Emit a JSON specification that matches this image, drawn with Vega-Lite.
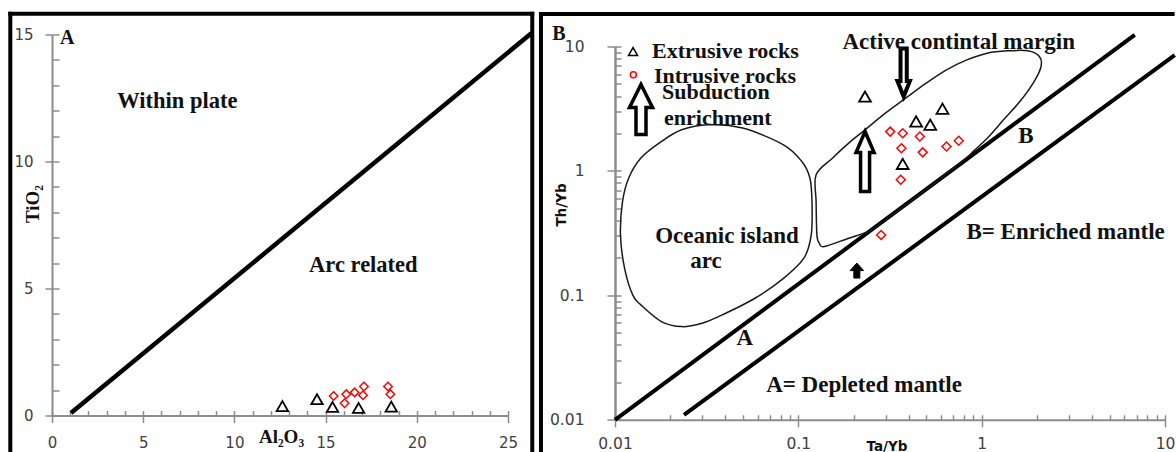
{
 "$schema": "https://vega.github.io/schema/vega-lite/v6.json",
 "background": "white",
 "padding": {"left": 7, "top": 10.5, "right": 0, "bottom": 0},
 "config": {"view": {"stroke": null}, "axis": {"grid": false, "labelFlush": false, "labelOverlap": false, "labelBound": false}},
 "datasets": {
  "samplesA": [
   {"type": "Extrusive", "Al2O3": 12.63, "TiO2": 0.37},
   {"type": "Extrusive", "Al2O3": 14.53, "TiO2": 0.64},
   {"type": "Extrusive", "Al2O3": 15.38, "TiO2": 0.34},
   {"type": "Extrusive", "Al2O3": 16.81, "TiO2": 0.30},
   {"type": "Extrusive", "Al2O3": 18.60, "TiO2": 0.35},
   {"type": "Intrusive", "Al2O3": 15.44, "TiO2": 0.77},
   {"type": "Intrusive", "Al2O3": 16.04, "TiO2": 0.48},
   {"type": "Intrusive", "Al2O3": 16.13, "TiO2": 0.84},
   {"type": "Intrusive", "Al2O3": 16.59, "TiO2": 0.91},
   {"type": "Intrusive", "Al2O3": 17.10, "TiO2": 1.14},
   {"type": "Intrusive", "Al2O3": 17.05, "TiO2": 0.80},
   {"type": "Intrusive", "Al2O3": 18.42, "TiO2": 1.14},
   {"type": "Intrusive", "Al2O3": 18.55, "TiO2": 0.84}
  ],
  "boundaryA": [{"Al2O3": 1.04, "TiO2": 0.1}, {"Al2O3": 26.3, "TiO2": 15.06}],
  "notesA": [
   {"label": "A", "kind": "panel", "Al2O3": 0.84, "TiO2": 14.62},
   {"label": "Within plate", "kind": "field", "Al2O3": 6.87, "TiO2": 12.09},
   {"label": "Arc related", "kind": "field", "Al2O3": 17.07, "TiO2": 5.65}
  ],
  "samplesB": [
   {"type": "Extrusive", "Ta_Yb": 0.231, "Th_Yb": 3.96},
   {"type": "Extrusive", "Ta_Yb": 0.439, "Th_Yb": 2.50},
   {"type": "Extrusive", "Ta_Yb": 0.524, "Th_Yb": 2.35},
   {"type": "Extrusive", "Ta_Yb": 0.611, "Th_Yb": 3.16},
   {"type": "Extrusive", "Ta_Yb": 0.371, "Th_Yb": 1.14},
   {"type": "Intrusive", "Ta_Yb": 0.317, "Th_Yb": 2.07},
   {"type": "Intrusive", "Ta_Yb": 0.371, "Th_Yb": 2.01},
   {"type": "Intrusive", "Ta_Yb": 0.460, "Th_Yb": 1.89},
   {"type": "Intrusive", "Ta_Yb": 0.365, "Th_Yb": 1.52},
   {"type": "Intrusive", "Ta_Yb": 0.477, "Th_Yb": 1.41},
   {"type": "Intrusive", "Ta_Yb": 0.643, "Th_Yb": 1.57},
   {"type": "Intrusive", "Ta_Yb": 0.750, "Th_Yb": 1.75},
   {"type": "Intrusive", "Ta_Yb": 0.362, "Th_Yb": 0.85},
   {"type": "Intrusive", "Ta_Yb": 0.283, "Th_Yb": 0.306}
  ],
  "mantleB": [
   {"line": "A", "Ta_Yb": 0.01, "Th_Yb": 0.01},
   {"line": "A", "Ta_Yb": 6.84, "Th_Yb": 12.41},
   {"line": "B", "Ta_Yb": 0.0238, "Th_Yb": 0.01095},
   {"line": "B", "Ta_Yb": 11.3, "Th_Yb": 8.51}
  ],
  "fieldsB": [
   {"region": "Oceanic island arc", "seq": 1, "Ta_Yb": 0.0322, "Th_Yb": 2.35},
   {"region": "Oceanic island arc", "seq": 2, "Ta_Yb": 0.0497, "Th_Yb": 2.21},
   {"region": "Oceanic island arc", "seq": 3, "Ta_Yb": 0.083, "Th_Yb": 1.62},
   {"region": "Oceanic island arc", "seq": 4, "Ta_Yb": 0.1045, "Th_Yb": 1.19},
   {"region": "Oceanic island arc", "seq": 5, "Ta_Yb": 0.1157, "Th_Yb": 0.874},
   {"region": "Oceanic island arc", "seq": 6, "Ta_Yb": 0.1187, "Th_Yb": 0.567},
   {"region": "Oceanic island arc", "seq": 7, "Ta_Yb": 0.1176, "Th_Yb": 0.306},
   {"region": "Oceanic island arc", "seq": 8, "Ta_Yb": 0.1072, "Th_Yb": 0.199},
   {"region": "Oceanic island arc", "seq": 9, "Ta_Yb": 0.083, "Th_Yb": 0.137},
   {"region": "Oceanic island arc", "seq": 10, "Ta_Yb": 0.058, "Th_Yb": 0.0948},
   {"region": "Oceanic island arc", "seq": 11, "Ta_Yb": 0.0385, "Th_Yb": 0.0697},
   {"region": "Oceanic island arc", "seq": 12, "Ta_Yb": 0.0298, "Th_Yb": 0.0597},
   {"region": "Oceanic island arc", "seq": 13, "Ta_Yb": 0.0231, "Th_Yb": 0.0561},
   {"region": "Oceanic island arc", "seq": 14, "Ta_Yb": 0.0179, "Th_Yb": 0.0616},
   {"region": "Oceanic island arc", "seq": 15, "Ta_Yb": 0.01384, "Th_Yb": 0.0838},
   {"region": "Oceanic island arc", "seq": 16, "Ta_Yb": 0.01249, "Th_Yb": 0.1009},
   {"region": "Oceanic island arc", "seq": 17, "Ta_Yb": 0.01128, "Th_Yb": 0.165},
   {"region": "Oceanic island arc", "seq": 18, "Ta_Yb": 0.01071, "Th_Yb": 0.306},
   {"region": "Oceanic island arc", "seq": 19, "Ta_Yb": 0.01099, "Th_Yb": 0.567},
   {"region": "Oceanic island arc", "seq": 20, "Ta_Yb": 0.01187, "Th_Yb": 0.874},
   {"region": "Oceanic island arc", "seq": 21, "Ta_Yb": 0.01384, "Th_Yb": 1.27},
   {"region": "Oceanic island arc", "seq": 22, "Ta_Yb": 0.01788, "Th_Yb": 1.72},
   {"region": "Oceanic island arc", "seq": 23, "Ta_Yb": 0.0231, "Th_Yb": 2.14},
   {"region": "Active continental margin", "seq": 1, "Ta_Yb": 0.125, "Th_Yb": 0.93},
   {"region": "Active continental margin", "seq": 2, "Ta_Yb": 0.1534, "Th_Yb": 1.266},
   {"region": "Active continental margin", "seq": 3, "Ta_Yb": 0.1883, "Th_Yb": 1.671},
   {"region": "Active continental margin", "seq": 4, "Ta_Yb": 0.231, "Th_Yb": 2.138},
   {"region": "Active continental margin", "seq": 5, "Ta_Yb": 0.2983, "Th_Yb": 2.911},
   {"region": "Active continental margin", "seq": 6, "Ta_Yb": 0.3852, "Th_Yb": 3.842},
   {"region": "Active continental margin", "seq": 7, "Ta_Yb": 0.4977, "Th_Yb": 5.073},
   {"region": "Active continental margin", "seq": 8, "Ta_Yb": 0.6428, "Th_Yb": 6.494},
   {"region": "Active continental margin", "seq": 9, "Ta_Yb": 0.83, "Th_Yb": 7.812},
   {"region": "Active continental margin", "seq": 10, "Ta_Yb": 1.072, "Th_Yb": 8.84},
   {"region": "Active continental margin", "seq": 11, "Ta_Yb": 1.385, "Th_Yb": 9.23},
   {"region": "Active continental margin", "seq": 12, "Ta_Yb": 1.789, "Th_Yb": 9.23},
   {"region": "Active continental margin", "seq": 13, "Ta_Yb": 2.065, "Th_Yb": 8.31},
   {"region": "Active continental margin", "seq": 14, "Ta_Yb": 2.108, "Th_Yb": 6.91},
   {"region": "Active continental margin", "seq": 15, "Ta_Yb": 1.932, "Th_Yb": 5.23},
   {"region": "Active continental margin", "seq": 16, "Ta_Yb": 1.615, "Th_Yb": 3.61},
   {"region": "Active continental margin", "seq": 17, "Ta_Yb": 1.316, "Th_Yb": 2.573},
   {"region": "Active continental margin", "seq": 18, "Ta_Yb": 1.072, "Th_Yb": 1.833},
   {"region": "Active continental margin", "seq": 19, "Ta_Yb": 0.897, "Th_Yb": 1.432},
   {"region": "Active continental margin", "seq": 20, "Ta_Yb": 0.822, "Th_Yb": 1.266},
   {"region": "Active continental margin", "seq": 21, "Ta_Yb": 0.4977, "Th_Yb": 0.707},
   {"region": "Active continental margin", "seq": 22, "Ta_Yb": 0.2983, "Th_Yb": 0.405},
   {"region": "Active continental margin", "seq": 23, "Ta_Yb": 0.2493, "Th_Yb": 0.333},
   {"region": "Active continental margin", "seq": 24, "Ta_Yb": 0.1883, "Th_Yb": 0.288},
   {"region": "Active continental margin", "seq": 25, "Ta_Yb": 0.1385, "Th_Yb": 0.2467},
   {"region": "Active continental margin", "seq": 26, "Ta_Yb": 0.1302, "Th_Yb": 0.2624},
   {"region": "Active continental margin", "seq": 27, "Ta_Yb": 0.1263, "Th_Yb": 0.306},
   {"region": "Active continental margin", "seq": 28, "Ta_Yb": 0.125, "Th_Yb": 0.567}
  ],
  "notesB": [
   {"label": "B", "kind": "panel", "Ta_Yb": 0.00495, "Th_Yb": 11.38},
   {"label": "Extrusive rocks", "kind": "legend", "Ta_Yb": 0.01591, "Th_Yb": 8.158},
   {"label": "Intrusive rocks", "kind": "legend", "Ta_Yb": 0.01632, "Th_Yb": 5.135},
   {"label": "Subduction", "kind": "legend", "Ta_Yb": 0.01805, "Th_Yb": 3.819},
   {"label": "enrichment", "kind": "legend", "Ta_Yb": 0.01851, "Th_Yb": 2.36},
   {"label": "Active contintal margin", "kind": "field", "Ta_Yb": 0.749, "Th_Yb": 9.46},
   {"label": "Oceanic island", "kind": "field", "Ta_Yb": 0.04083, "Th_Yb": 0.2657},
   {"label": "arc", "kind": "field", "Ta_Yb": 0.03137, "Th_Yb": 0.1674},
   {"label": "A", "kind": "field", "Ta_Yb": 0.05099, "Th_Yb": 0.04023},
   {"label": "B", "kind": "field", "Ta_Yb": 1.742, "Th_Yb": 1.692},
   {"label": "B= Enriched mantle", "kind": "field", "Ta_Yb": 2.869, "Th_Yb": 0.2861},
   {"label": "A= Depleted mantle", "kind": "field", "Ta_Yb": 0.2282, "Th_Yb": 0.01685}
  ],
  "legendB": [
   {"type": "Extrusive", "Ta_Yb": 0.01254, "Th_Yb": 9.116},
   {"type": "Intrusive", "Ta_Yb": 0.01259, "Th_Yb": 5.922}
  ]
 },
 "spacing": -3,
 "hconcat": [
  {
   "width": 456,
   "height": 381,
   "resolve": {"axis": {"x": "independent", "y": "independent"}},
   "layer": [
    {
     "data": {"name": "boundaryA"},
     "mark": {"type": "line", "stroke": "black", "strokeWidth": 4.5},
     "encoding": {
      "x": {"field": "Al2O3", "type": "quantitative", "scale": {"domain": [0, 25], "nice": false, "zero": false},
       "axis": {"orient": "bottom", "values": [0, 5, 10, 15, 20, 25], "title": "Al₂O₃", "titleFont": "Liberation Serif", "titleFontSize": 19, "titleFontWeight": "bold", "titleColor": "#111111", "titleX": 229, "titleY": 21, "titleAlign": "center", "titleBaseline": "middle", "labelFont": "DejaVu Sans", "labelFontSize": 15, "labelColor": "#404040", "labelPadding": 13, "tickSize": 7, "tickWidth": 1.5, "tickColor": "#8c8c8c", "domainColor": "#8c8c8c", "domainWidth": 2}},
      "y": {"field": "TiO2", "type": "quantitative", "scale": {"domain": [0, 15], "nice": false, "zero": false},
       "axis": {"orient": "left", "values": [0, 5, 10, 15], "title": "TiO₂", "titleFont": "Liberation Serif", "titleFontSize": 19, "titleFontWeight": "bold", "titleColor": "#111111", "titleAngle": 270, "titleX": -20, "titleY": 169, "titleAlign": "center", "titleBaseline": "middle", "labelFont": "DejaVu Sans", "labelFontSize": 15, "labelColor": "#404040", "labelPadding": 12, "tickSize": 7, "tickWidth": 1.5, "tickColor": "#8c8c8c", "domainColor": "#8c8c8c", "domainWidth": 2}}
     }
    },
    {
     "data": {"name": "samplesA"},
     "transform": [{"filter": "datum.type === 'Extrusive'"}],
     "mark": {"type": "point", "shape": "triangle-up", "filled": false, "stroke": "black", "strokeWidth": 1.8, "size": 130, "opacity": 1},
     "encoding": {
      "x": {"field": "Al2O3", "type": "quantitative", "scale": {"domain": [0, 25], "nice": false, "zero": false},
       "axis": {"orient": "bottom", "values": [0,1,2,3,4,5,6,7,8,9,10,11,12,13,14,15,16,17,18,19,20,21,22,23,24,25], "title": null, "labels": false, "domain": false, "tickSize": -5, "tickWidth": 1.5, "tickColor": "#8c8c8c"}},
      "y": {"field": "TiO2", "type": "quantitative", "scale": {"domain": [0, 15], "nice": false, "zero": false},
       "axis": {"orient": "left", "values": [0,1,2,3,4,5,6,7,8,9,10,11,12,13,14,15], "title": null, "labels": false, "domain": false, "tickSize": -7, "tickWidth": 1.5, "tickColor": "#8c8c8c"}}
     }
    },
    {
     "data": {"name": "samplesA"},
     "transform": [{"filter": "datum.type === 'Intrusive'"}],
     "mark": {"type": "point", "shape": "diamond", "filled": false, "stroke": "#ff0000", "strokeWidth": 1.5, "size": 72, "opacity": 1},
     "encoding": {
      "x": {"field": "Al2O3", "type": "quantitative", "scale": {"domain": [0, 25], "nice": false, "zero": false}, "axis": null},
      "y": {"field": "TiO2", "type": "quantitative", "scale": {"domain": [0, 15], "nice": false, "zero": false}, "axis": null}
     }
    },
    {
     "data": {"values": [{}]},
     "mark": {"type": "rule", "stroke": "black", "strokeWidth": 4, "strokeCap": "square"},
     "encoding": {
      "x": {"datum": -2.286, "type": "quantitative", "scale": {"domain": [0, 25], "nice": false, "zero": false}, "axis": null},
      "y": {"datum": -1.406, "type": "quantitative", "scale": {"domain": [0, 15], "nice": false, "zero": false}, "axis": null},
      "y2": {"datum": 15.819}
     }
    },
    {
     "data": {"values": [{}]},
     "mark": {"type": "rule", "stroke": "black", "strokeWidth": 4, "strokeCap": "square"},
     "encoding": {
      "x": {"datum": -2.286, "type": "quantitative", "scale": {"domain": [0, 25], "nice": false, "zero": false}, "axis": null},
      "x2": {"datum": 26.33},
      "y": {"datum": 15.819, "type": "quantitative", "scale": {"domain": [0, 15], "nice": false, "zero": false}, "axis": null}
     }
    },
    {
     "data": {"values": [{}]},
     "mark": {"type": "rule", "stroke": "black", "strokeWidth": 4, "strokeCap": "square"},
     "encoding": {
      "x": {"datum": 26.33, "type": "quantitative", "scale": {"domain": [0, 25], "nice": false, "zero": false}, "axis": null},
      "y": {"datum": -1.406, "type": "quantitative", "scale": {"domain": [0, 15], "nice": false, "zero": false}, "axis": null},
      "y2": {"datum": 15.819}
     }
    },
    {
     "data": {"name": "notesA"},
     "transform": [{"filter": "datum.kind === 'panel'"}],
     "mark": {"type": "text", "font": "Liberation Serif", "fontWeight": "bold", "fontSize": 20, "align": "center", "baseline": "alphabetic", "color": "#111111"},
     "encoding": {
      "x": {"field": "Al2O3", "type": "quantitative", "scale": {"domain": [0, 25], "nice": false, "zero": false}, "axis": null},
      "y": {"field": "TiO2", "type": "quantitative", "scale": {"domain": [0, 15], "nice": false, "zero": false}, "axis": null},
      "text": {"field": "label"}
     }
    },
    {
     "data": {"name": "notesA"},
     "transform": [{"filter": "datum.kind === 'field'"}],
     "mark": {"type": "text", "font": "Liberation Serif", "fontWeight": "bold", "fontSize": 22.5, "align": "center", "baseline": "alphabetic", "color": "#111111"},
     "encoding": {
      "x": {"field": "Al2O3", "type": "quantitative", "scale": {"domain": [0, 25], "nice": false, "zero": false}, "axis": null},
      "y": {"field": "TiO2", "type": "quantitative", "scale": {"domain": [0, 15], "nice": false, "zero": false}, "axis": null},
      "text": {"field": "label"}
     }
    }
   ]
  },
  {
   "width": 550,
   "height": 385.3,
   "resolve": {"axis": {"x": "independent", "y": "independent"}},
   "layer": [
    {
     "data": {"name": "mantleB"},
     "mark": {"type": "line", "stroke": "black", "strokeWidth": 4},
     "encoding": {
      "detail": {"field": "line"},
      "x": {"field": "Ta_Yb", "type": "quantitative", "scale": {"type": "log", "domain": [0.01, 10], "nice": false},
       "axis": {"orient": "bottom", "values": [0.01, 0.1, 1, 10], "format": "~g", "title": "Ta/Yb", "titleFont": "DejaVu Sans", "titleFontSize": 13.5, "titleFontWeight": "bold", "titleColor": "#111111", "titleX": 271.5, "titleY": 27, "titleAlign": "center", "titleBaseline": "middle", "labelFont": "DejaVu Sans", "labelFontSize": 15.5, "labelColor": "#404040", "labelPadding": 10, "tickSize": 7, "tickWidth": 1.5, "tickColor": "#8c8c8c", "domainColor": "#8c8c8c", "domainWidth": 2}},
      "y": {"field": "Th_Yb", "type": "quantitative", "scale": {"type": "log", "domain": [0.01, 10], "nice": false, "range": [385.3, 12]},
       "axis": {"orient": "left", "values": [0.01, 0.1, 1, 10], "format": "~g", "title": "Th/Yb", "titleFont": "DejaVu Sans", "titleFontSize": 13.5, "titleFontWeight": "bold", "titleColor": "#111111", "titleAngle": 270, "titleX": -53.5, "titleY": 170, "titleAlign": "center", "titleBaseline": "middle", "labelFont": "DejaVu Sans", "labelFontSize": 15.5, "labelColor": "#404040", "labelPadding": 23, "tickSize": 8, "tickWidth": 1.5, "tickColor": "#8c8c8c", "domainColor": "#8c8c8c", "domainWidth": 2.5}}
     }
    },
    {
     "data": {"name": "samplesB"},
     "transform": [{"filter": "datum.type === 'Extrusive'"}],
     "mark": {"type": "point", "shape": "triangle-up", "filled": false, "stroke": "black", "strokeWidth": 1.8, "size": 140, "opacity": 1},
     "encoding": {
      "x": {"field": "Ta_Yb", "type": "quantitative", "scale": {"type": "log", "domain": [0.01, 10], "nice": false},
       "axis": {"orient": "bottom", "values": [0.01,0.02,0.03,0.04,0.05,0.06,0.07,0.08,0.09,0.1,0.2,0.3,0.4,0.5,0.6,0.7,0.8,0.9,1,2,3,4,5,6,7,8,9,10], "title": null, "labels": false, "domain": false, "tickSize": -5, "tickWidth": 1.5, "tickColor": "#8c8c8c"}},
      "y": {"field": "Th_Yb", "type": "quantitative", "scale": {"type": "log", "domain": [0.01, 10], "nice": false, "range": [385.3, 12]},
       "axis": {"orient": "left", "values": [0.01,0.02,0.03,0.04,0.05,0.06,0.07,0.08,0.09,0.1,0.2,0.3,0.4,0.5,0.6,0.7,0.8,0.9,1,2,3,4,5,6,7,8,9,10], "title": null, "labels": false, "domain": false, "tickSize": -6, "tickWidth": 1.5, "tickColor": "#8c8c8c"}}
     }
    },
    {
     "data": {"name": "samplesB"},
     "transform": [{"filter": "datum.type === 'Intrusive'"}],
     "mark": {"type": "point", "shape": "diamond", "filled": false, "stroke": "#ff0000", "strokeWidth": 1.5, "size": 80, "opacity": 1},
     "encoding": {
      "x": {"field": "Ta_Yb", "type": "quantitative", "scale": {"type": "log", "domain": [0.01, 10], "nice": false}, "axis": null},
      "y": {"field": "Th_Yb", "type": "quantitative", "scale": {"type": "log", "domain": [0.01, 10], "nice": false, "range": [385.3, 12]}, "axis": null}
     }
    },
    {
     "data": {"name": "fieldsB"},
     "mark": {"type": "line", "stroke": "#1a1a1a", "strokeWidth": 1.5, "interpolate": "cardinal-closed"},
     "encoding": {
      "detail": {"field": "region"},
      "order": {"field": "seq", "type": "quantitative"},
      "x": {"field": "Ta_Yb", "type": "quantitative", "scale": {"type": "log", "domain": [0.01, 10], "nice": false}, "axis": null},
      "y": {"field": "Th_Yb", "type": "quantitative", "scale": {"type": "log", "domain": [0.01, 10], "nice": false, "range": [385.3, 12]}, "axis": null}
     }
    },
    {
     "data": {"values": [{}]},
     "mark": {"type": "rule", "stroke": "black", "strokeWidth": 4, "strokeCap": "square"},
     "encoding": {
      "x": {"datum": 0.003947, "type": "quantitative", "scale": {"type": "log", "domain": [0.01, 10], "nice": false}, "axis": null},
      "y": {"datum": 0.005551, "type": "quantitative", "scale": {"type": "log", "domain": [0.01, 10], "nice": false, "range": [385.3, 12]}, "axis": null},
      "y2": {"datum": 18.25}
     }
    },
    {
     "data": {"values": [{}]},
     "mark": {"type": "rule", "stroke": "black", "strokeWidth": 4, "strokeCap": "square"},
     "encoding": {
      "x": {"datum": 0.003947, "type": "quantitative", "scale": {"type": "log", "domain": [0.01, 10], "nice": false}, "axis": null},
      "x2": {"datum": 11.0},
      "y": {"datum": 18.25, "type": "quantitative", "scale": {"type": "log", "domain": [0.01, 10], "nice": false, "range": [385.3, 12]}, "axis": null}
     }
    },
    {
     "data": {"values": [{}]},
     "mark": {"type": "point", "shape": "M0,-1L0.46,-0.08L0.2,-0.08L0.2,1L-0.2,1L-0.2,-0.08L-0.46,-0.08Z", "filled": true, "fill": "white", "stroke": "black", "strokeWidth": 3.5, "size": 2500, "opacity": 1},
     "encoding": {
      "x": {"datum": 0.01386, "type": "quantitative", "scale": {"type": "log", "domain": [0.01, 10], "nice": false}, "axis": null},
      "y": {"datum": 3.117, "type": "quantitative", "scale": {"type": "log", "domain": [0.01, 10], "nice": false, "range": [385.3, 12]}, "axis": null}
     }
    },
    {
     "data": {"values": [{}]},
     "mark": {"type": "point", "shape": "M0,-1L0.3,-0.3L0.15,-0.3L0.15,1L-0.15,1L-0.15,-0.3L-0.3,-0.3Z", "filled": true, "fill": "white", "stroke": "black", "strokeWidth": 3.5, "size": 3600, "opacity": 1},
     "encoding": {
      "x": {"datum": 0.2312, "type": "quantitative", "scale": {"type": "log", "domain": [0.01, 10], "nice": false}, "axis": null},
      "y": {"datum": 1.19, "type": "quantitative", "scale": {"type": "log", "domain": [0.01, 10], "nice": false, "range": [385.3, 12]}, "axis": null}
     }
    },
    {
     "data": {"values": [{}]},
     "mark": {"type": "point", "shape": "M-0.13,-1L0.13,-1L0.13,0.35L0.26,0.35L0,1L-0.26,0.35L-0.13,0.35Z", "filled": true, "fill": "white", "stroke": "black", "strokeWidth": 4, "size": 2304, "opacity": 1},
     "encoding": {
      "x": {"datum": 0.3754, "type": "quantitative", "scale": {"type": "log", "domain": [0.01, 10], "nice": false}, "axis": null},
      "y": {"datum": 6.18, "type": "quantitative", "scale": {"type": "log", "domain": [0.01, 10], "nice": false, "range": [385.3, 12]}, "axis": null}
     }
    },
    {
     "data": {"values": [{}]},
     "mark": {"type": "point", "shape": "M0,-1L0.9,0L0.4,0L0.4,1L-0.4,1L-0.4,0L-0.9,0Z", "filled": true, "fill": "black", "stroke": "black", "strokeWidth": 1, "size": 225, "opacity": 1},
     "encoding": {
      "x": {"datum": 0.2085, "type": "quantitative", "scale": {"type": "log", "domain": [0.01, 10], "nice": false}, "axis": null},
      "y": {"datum": 0.1582, "type": "quantitative", "scale": {"type": "log", "domain": [0.01, 10], "nice": false, "range": [385.3, 12]}, "axis": null}
     }
    },
    {
     "data": {"name": "legendB"},
     "transform": [{"filter": "datum.type === 'Extrusive'"}],
     "mark": {"type": "point", "shape": "triangle-up", "filled": false, "stroke": "black", "strokeWidth": 1.5, "size": 81, "opacity": 1},
     "encoding": {
      "x": {"field": "Ta_Yb", "type": "quantitative", "scale": {"type": "log", "domain": [0.01, 10], "nice": false}, "axis": null},
      "y": {"field": "Th_Yb", "type": "quantitative", "scale": {"type": "log", "domain": [0.01, 10], "nice": false, "range": [385.3, 12]}, "axis": null}
     }
    },
    {
     "data": {"name": "legendB"},
     "transform": [{"filter": "datum.type === 'Intrusive'"}],
     "mark": {"type": "point", "shape": "circle", "filled": false, "stroke": "#ff0000", "strokeWidth": 1.5, "size": 36, "opacity": 1},
     "encoding": {
      "x": {"field": "Ta_Yb", "type": "quantitative", "scale": {"type": "log", "domain": [0.01, 10], "nice": false}, "axis": null},
      "y": {"field": "Th_Yb", "type": "quantitative", "scale": {"type": "log", "domain": [0.01, 10], "nice": false, "range": [385.3, 12]}, "axis": null}
     }
    },
    {
     "data": {"name": "notesB"},
     "transform": [{"filter": "datum.kind === 'legend'"}],
     "mark": {"type": "text", "font": "Liberation Serif", "fontWeight": "bold", "fontSize": 22, "align": "left", "baseline": "alphabetic", "color": "#111111"},
     "encoding": {
      "x": {"field": "Ta_Yb", "type": "quantitative", "scale": {"type": "log", "domain": [0.01, 10], "nice": false}, "axis": null},
      "y": {"field": "Th_Yb", "type": "quantitative", "scale": {"type": "log", "domain": [0.01, 10], "nice": false, "range": [385.3, 12]}, "axis": null},
      "text": {"field": "label"}
     }
    },
    {
     "data": {"name": "notesB"},
     "transform": [{"filter": "datum.kind === 'field'"}],
     "mark": {"type": "text", "font": "Liberation Serif", "fontWeight": "bold", "fontSize": 23, "align": "center", "baseline": "alphabetic", "color": "#111111"},
     "encoding": {
      "x": {"field": "Ta_Yb", "type": "quantitative", "scale": {"type": "log", "domain": [0.01, 10], "nice": false}, "axis": null},
      "y": {"field": "Th_Yb", "type": "quantitative", "scale": {"type": "log", "domain": [0.01, 10], "nice": false, "range": [385.3, 12]}, "axis": null},
      "text": {"field": "label"}
     }
    },
    {
     "data": {"name": "notesB"},
     "transform": [{"filter": "datum.kind === 'panel'"}],
     "mark": {"type": "text", "font": "Liberation Serif", "fontWeight": "bold", "fontSize": 20, "align": "center", "baseline": "alphabetic", "color": "#111111"},
     "encoding": {
      "x": {"field": "Ta_Yb", "type": "quantitative", "scale": {"type": "log", "domain": [0.01, 10], "nice": false}, "axis": null},
      "y": {"field": "Th_Yb", "type": "quantitative", "scale": {"type": "log", "domain": [0.01, 10], "nice": false, "range": [385.3, 12]}, "axis": null},
      "text": {"field": "label"}
     }
    }
   ]
  }
 ]
}
